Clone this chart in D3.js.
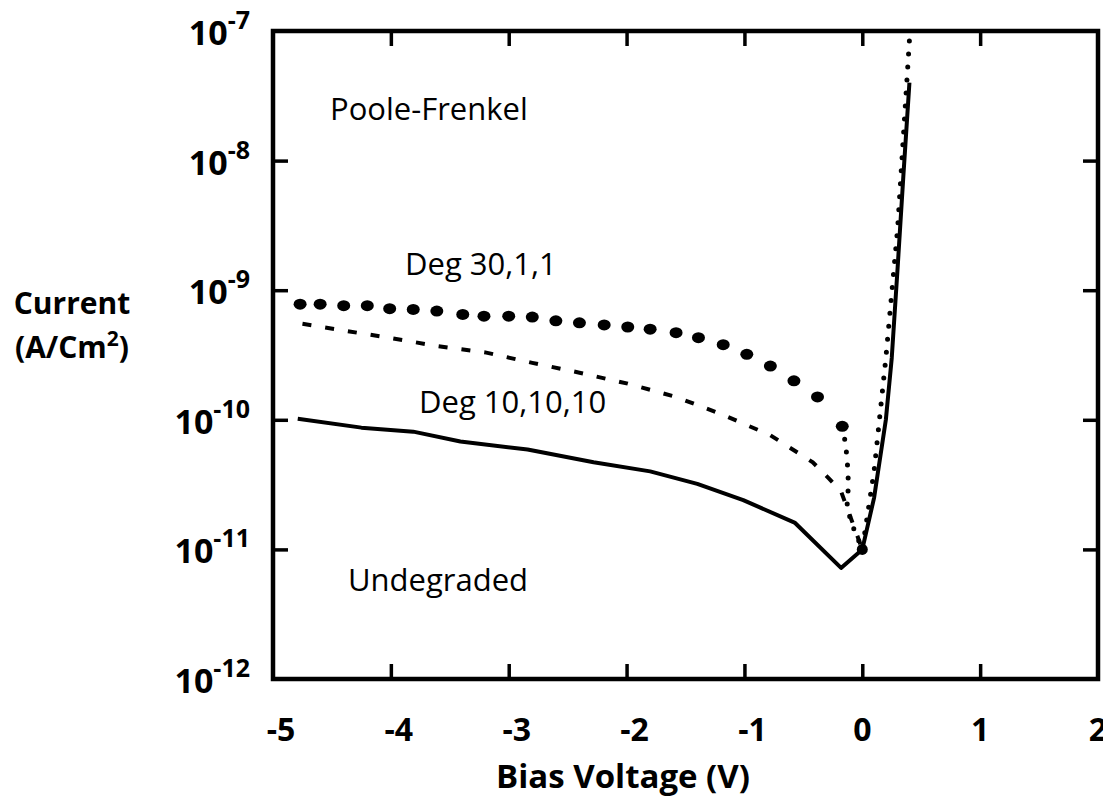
<!DOCTYPE html>
<html lang='en'>
<head>
    <meta charset='UTF-8'>
    <title>Current vs bias voltage</title>
    <script src='https://cdnjs.cloudflare.com/ajax/libs/d3/7.8.5/d3.min.js'></script>
    <style>
        body { margin: 0; background: #fff; }
        text { font-family: 'Open Sans', 'Noto Sans', sans-serif; fill: #000; }
    </style>
</head>
<body>
    <div id='anchor'></div>
    <script>
        // tick values
        const xTicks = [-5, -4, -3, -2, -1, 0, 1, 2];
        const yExponents = [-7, -8, -9, -10, -11, -12];

        // Deg 30,1,1 - large dots
        const deg30Volts = [-4.77, -4.60, -4.40, -4.20, -4.01, -3.81, -3.61, -3.39, -3.21, -3.00, -2.80, -2.60,
            -2.40, -2.19, -1.99, -1.80, -1.58, -1.39, -1.18, -0.98, -0.78, -0.58, -0.38, -0.17];
        const deg30Current = [7.8e-10, 7.8e-10, 7.6e-10, 7.6e-10, 7.2e-10, 7.1e-10, 6.9e-10, 6.5e-10, 6.3e-10, 6.3e-10,
            6.2e-10, 5.8e-10, 5.6e-10, 5.4e-10, 5.2e-10, 5.0e-10, 4.7e-10, 4.3e-10, 3.8e-10, 3.2e-10, 2.6e-10,
            2.0e-10, 1.5e-10, 8.9e-11];
        // Deg 30,1,1 - fine dotted tail and forward branch
        const deg30TailVolts = [-0.17, -0.14, -0.13, -0.12, -0.12, -0.13, -0.08, 0, 0.1, 0.2, 0.3, 0.4];
        const deg30TailCurrent = [8.9e-11, 6.4e-11, 5.0e-11, 3.9e-11, 2.9e-11, 2.1e-11, 1.5e-11, 1.0e-11,
            4.0e-11, 3.0e-10, 3.0e-9, 8.5e-8];

        // Deg 10,10,10 - dashed
        const deg10Volts = [-4.75, -4.41, -4.02, -3.60, -3.19, -2.80, -2.39, -1.99, -1.58, -1.19, -0.78, -0.42,
            -0.28, -0.18, 0];
        const deg10Current = [5.5e-10, 4.9e-10, 4.3e-10, 3.7e-10, 3.3e-10, 2.75e-10, 2.3e-10, 1.9e-10, 1.5e-10,
            1.1e-10, 7.6e-11, 4.7e-11, 3.5e-11, 2.8e-11, 1.0e-11];

        // Undegraded - solid
        const undegVolts = [-4.79, -4.25, -3.81, -3.41, -2.84, -2.28, -1.80, -1.40, -1.01, -0.57, -0.18, 0,
            0.1, 0.2, 0.25, 0.3, 0.35, 0.4];
        const undegCurrent = [1.02e-10, 8.7e-11, 8.1e-11, 6.8e-11, 5.9e-11, 4.7e-11, 4.0e-11, 3.2e-11, 2.4e-11,
            1.6e-11, 7.2e-12, 1.0e-11, 2.5e-11, 1.0e-10, 3.0e-10, 1.5e-9, 8.0e-9, 4.0e-8];

        const width = 1103, height = 801;
        const margin = { left: 273, right: 5, top: 31, bottom: 122 };

        const svg = d3.select('#anchor').append('svg')
            .attr('width', width)
            .attr('height', height);

        const x = d3.scaleLinear().domain([-5, 2]).range([margin.left, width - margin.right]);
        const y = d3.scaleLog().domain([1e-12, 1e-7]).range([height - margin.bottom, margin.top]);

        const yTickVals = yExponents.map(e => Math.pow(10, e));

        // inward ticks on all four sides
        svg.append('g')
            .attr('transform', `translate(0,${y(1e-12)})`)
            .call(d3.axisBottom(x).tickValues(xTicks.slice(1, -1)).tickSizeInner(-15).tickSizeOuter(0).tickFormat(''))
            .call(g => g.select('.domain').remove());
        svg.append('g')
            .attr('transform', `translate(0,${y(1e-7)})`)
            .call(d3.axisTop(x).tickValues(xTicks.slice(1, -1)).tickSizeInner(-15).tickSizeOuter(0).tickFormat(''))
            .call(g => g.select('.domain').remove());
        svg.append('g')
            .attr('transform', `translate(${x(-5)},0)`)
            .call(d3.axisLeft(y).tickValues(yTickVals.slice(1, -1)).tickSizeInner(-15).tickSizeOuter(0).tickFormat(''))
            .call(g => g.select('.domain').remove());
        svg.append('g')
            .attr('transform', `translate(${x(2)},0)`)
            .call(d3.axisRight(y).tickValues(yTickVals.slice(1, -1)).tickSizeInner(-15).tickSizeOuter(0).tickFormat(''))
            .call(g => g.select('.domain').remove());
        svg.selectAll('.tick line').attr('stroke', '#000').attr('stroke-width', 3.5);

        // frame
        svg.append('rect')
            .attr('x', x(-5)).attr('y', y(1e-7))
            .attr('width', x(2) - x(-5)).attr('height', y(1e-12) - y(1e-7))
            .attr('fill', 'none').attr('stroke', '#000').attr('stroke-width', 4.5);

        // x tick labels
        svg.append('g').selectAll('text')
            .data(xTicks)
            .join('text')
            .attr('x', d => x(d) + (d < 0 ? 8 : 0))
            .attr('y', y(1e-12) + 62)
            .attr('text-anchor', 'middle')
            .attr('font-size', 32)
            .attr('font-weight', 'bold')
            .text(d => d < 0 ? '-' + Math.abs(d) : d);

        // y tick labels with superscript exponents
        const ylab = svg.append('g').selectAll('text')
            .data(yExponents)
            .join('text')
            .attr('x', 250)
            .attr('y', d => y(Math.pow(10, d)) + 14)
            .attr('text-anchor', 'end')
            .attr('font-size', 34)
            .attr('font-weight', 'bold');
        ylab.append('tspan').text('10');
        ylab.append('tspan').attr('dy', -16).attr('font-size', 25).text(d => '-' + Math.abs(d));

        // axis titles
        svg.append('text')
            .attr('x', 623).attr('y', 788)
            .attr('text-anchor', 'middle')
            .attr('font-size', 33).attr('font-weight', 'bold')
            .text('Bias Voltage (V)');
        svg.append('text')
            .attr('x', 72).attr('y', 314)
            .attr('text-anchor', 'middle')
            .attr('font-size', 30).attr('font-weight', 'bold')
            .text('Current');
        const unit = svg.append('text')
            .attr('x', 72).attr('y', 358)
            .attr('text-anchor', 'middle')
            .attr('font-size', 30).attr('font-weight', 'bold');
        unit.append('tspan').text('(A/Cm');
        unit.append('tspan').attr('dy', -12).attr('font-size', 21).text('2');
        unit.append('tspan').attr('dy', 12).text(')');

        const line = d3.line().x(d => x(d[0])).y(d => y(d[1]));

        // Undegraded
        svg.append('path')
            .datum(d3.zip(undegVolts, undegCurrent))
            .attr('d', line)
            .attr('fill', 'none').attr('stroke', '#000').attr('stroke-width', 4)
            .attr('stroke-linejoin', 'round');

        // Deg 10,10,10
        svg.append('path')
            .datum(d3.zip(deg10Volts, deg10Current))
            .attr('d', line)
            .attr('fill', 'none').attr('stroke', '#000').attr('stroke-width', 4)
            .attr('stroke-dasharray', '9 14');

        // Deg 30,1,1 tail
        svg.append('path')
            .datum(d3.zip(deg30TailVolts, deg30TailCurrent))
            .attr('d', line)
            .attr('fill', 'none').attr('stroke', '#000').attr('stroke-width', 5)
            .attr('stroke-linecap', 'round')
            .attr('stroke-dasharray', '0 13');

        // Deg 30,1,1 dots
        svg.append('g').selectAll('ellipse')
            .data(d3.zip(deg30Volts, deg30Current))
            .join('ellipse')
            .attr('cx', d => x(d[0]))
            .attr('cy', d => y(d[1]))
            .attr('rx', 6.5).attr('ry', 5.5)
            .attr('fill', '#000');

        // junction point at 0 V
        svg.append('circle')
            .attr('cx', x(0)).attr('cy', y(1e-11)).attr('r', 5.5).attr('fill', '#000');

        // curve labels
        const labels = [
            { t: 'Poole-Frenkel', x: 330, y: 120 },
            { t: 'Deg 30,1,1', x: 405, y: 275 },
            { t: 'Deg 10,10,10', x: 419, y: 413 },
            { t: 'Undegraded', x: 348, y: 591 }
        ];
        svg.append('g').selectAll('text')
            .data(labels)
            .join('text')
            .attr('x', d => d.x).attr('y', d => d.y)
            .attr('font-family', "'DejaVu Sans', sans-serif")
            .attr('font-size', 31)
            .text(d => d.t);
    </script>
</body>
</html>
